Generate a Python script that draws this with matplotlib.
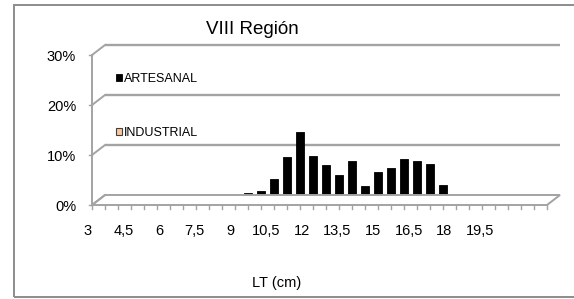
import numpy as np
import matplotlib
matplotlib.use("Agg")
import matplotlib.pyplot as plt
from matplotlib import transforms
from matplotlib.patches import Rectangle, Polygon

plt.rcParams['font.family'] = ['Liberation Sans', 'DejaVu Sans']

# ---- data ----
lengths = [3 + 0.5 * k for k in range(35)]          # LT (cm) categories 3 .. 20
artesanal_cats = [8.5, 9, 9.5, 10, 10.5, 11, 11.5, 12, 12.5, 13, 13.5, 14, 14.5, 15, 15.5, 16]
artesanal_vals = [1.5, 1.9, 4.3, 8.6, 13.6, 8.9, 7.0, 5.1, 7.8, 2.8, 5.7, 6.4, 8.3, 7.8, 7.2, 3.1]
industrial_vals = [0.0] * 35
yticks = [0, 10, 20, 30]
ytick_labels = ["0%", "10%", "20%", "30%"]
xtick_labels = ["3", "4,5", "6", "7,5", "9", "10,5", "12", "13,5", "15", "16,5", "18", "19,5"]
title = "VIII Región"
xlabel = "LT (cm)"

W, H, DPI = 574, 299, 100
fig = plt.figure(figsize=(W / DPI, H / DPI), dpi=DPI)

def fx(px):
    return px / W

def fy(py):
    return (H - py) / H

# main data axes (mid-depth plane)
x0, x1 = 98.5, 553.5
y0, y1 = 200, 50
ax = fig.add_axes([fx(x0), fy(y0), fx(x1) - fx(x0), fy(y1) - fy(y0)])
ax.set_xlim(-0.5, 34.5)
ax.set_ylim(0, 30)
ax.axis("off")

art = np.zeros(len(lengths))
for c, v in zip(artesanal_cats, artesanal_vals):
    art[lengths.index(c)] = v
idx = np.arange(len(lengths))

grid_col = "#A3A3A3"
back = ax.transData + transforms.ScaledTranslation(6.5 / DPI, 5 / DPI, fig.dpi_scale_trans)
front = ax.transData + transforms.ScaledTranslation(-6.5 / DPI, -5 / DPI, fig.dpi_scale_trans)

xl, xr = -0.5, 34.5
pts = [front.transform((xl, 0)), front.transform((xr, 0)),
       back.transform((xr, 0)), back.transform((xl, 0))]
floor = Polygon(pts, closed=True, transform=None, facecolor="white",
                edgecolor=grid_col, lw=1.4, zorder=1, clip_on=False)
fig.add_artist(floor)

# back wall gridlines + left stubs
for v in yticks[1:]:
    ax.plot([xl, xr], [v, v], transform=back, color=grid_col, lw=1.7,
            clip_on=False, zorder=1, solid_capstyle="butt")
for v in yticks:
    p0 = front.transform((xl, v))
    p1 = back.transform((xl, v))
    fig.add_artist(plt.Line2D([p0[0], p1[0]], [p0[1], p1[1]], transform=None,
                              color=grid_col, lw=1.4, zorder=1))
    fig.add_artist(plt.Line2D([p0[0] - 3, p0[0]], [p0[1], p0[1]], transform=None,
                              color=grid_col, lw=1.0))
# left axis line (front)
ax.plot([xl, xl], [0, 30], transform=front, color=grid_col, lw=1.4, clip_on=False, zorder=1)

# x tick marks on front edge
for b in np.arange(-0.5, 35, 1.0):
    p = front.transform((b, 0))
    fig.add_artist(plt.Line2D([p[0], p[0]], [p[1], p[1] - 4], transform=None,
                              color=grid_col, lw=1.0))

# bars
ax.bar(idx, art, width=0.58, color="black", edgecolor="black", lw=0.6,
       zorder=3, label="ARTESANAL")
ax.bar(idx, industrial_vals, width=0.58, color="#F8C79A", edgecolor="#404040",
       lw=0.8, zorder=3, label="INDUSTRIAL")

# y tick labels (front plane)
for v, lab in zip(yticks, ytick_labels):
    ax.text(xl, v, lab, transform=front + transforms.ScaledTranslation(-16 / DPI, -2 / DPI, fig.dpi_scale_trans),
            ha="right", va="center", fontsize=10.5, color="black")

# x tick labels (Excel spacing)
lab_ax = fig.add_axes([fx(82), fy(232), fx(82 + 11.88 * 35) - fx(82), fy(230) - fy(232)])
lab_ax.set_xlim(-0.5, 34.5)
lab_ax.set_ylim(0, 1)
lab_ax.axis("off")
for k, lab in enumerate(xtick_labels):
    lab_ax.text(idx[3 * k], 0.5, lab, ha="center", va="center", fontsize=10.5)

fig.text(fx(277), fy(283), xlabel, ha="center", va="center", fontsize=10.5)
fig.text(fx(252), fy(29), title, ha="center", va="center", fontsize=13.5)

leg = ax.legend(loc="upper left", bbox_to_anchor=(fx(116), fy(73)),
                bbox_transform=fig.transFigure, frameon=False, fontsize=9,
                handlelength=0.5, handleheight=0.5, handletextpad=0.15,
                labelspacing=3.35, borderpad=0, borderaxespad=0)

# outer border
fig.add_artist(Rectangle((fx(14), fy(297)), 1.2, fy(5) - fy(297), transform=fig.transFigure,
                         fill=False, edgecolor="#8C8C8C", lw=1.4))

fig.savefig("out.png", dpi=DPI)
